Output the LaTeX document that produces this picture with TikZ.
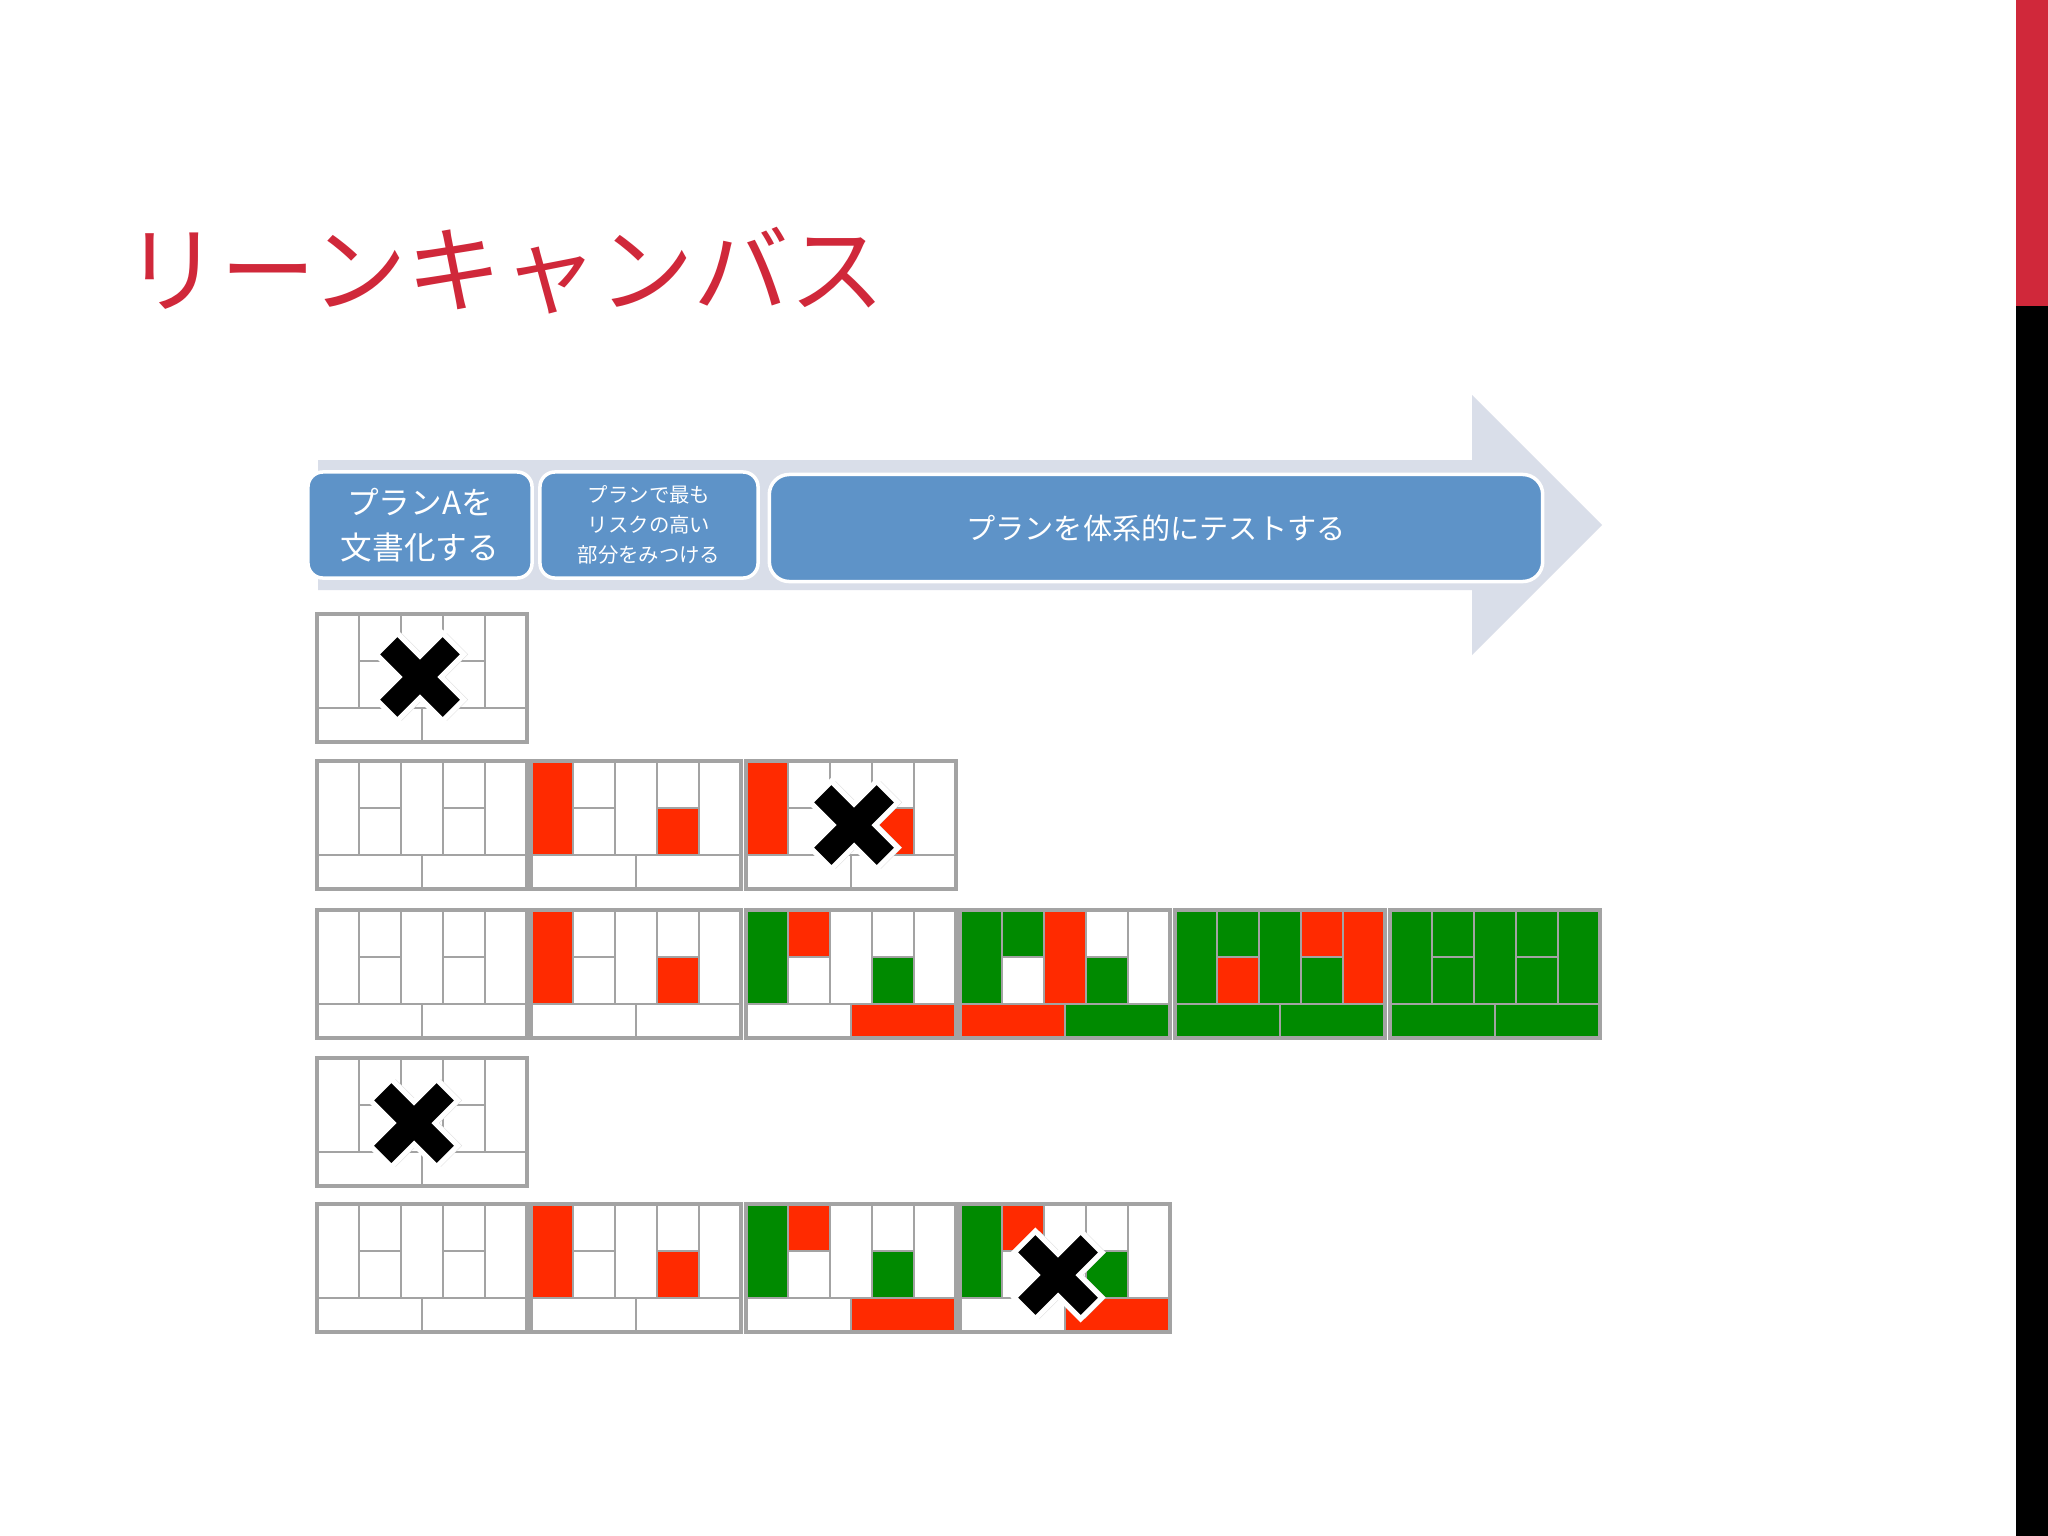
\documentclass[tikz,border=0pt]{standalone}
\usepackage{fontspec}
\newfontfamily\jpfont{Noto Sans CJK JP}
\definecolor{slidered}{HTML}{D0283A}
\definecolor{stepblue}{HTML}{5E93C8}
\definecolor{arrowgray}{HTML}{D9DEE9}
\definecolor{cred}{HTML}{FF2A00}
\definecolor{cgreen}{HTML}{008A00}
\definecolor{gridgray}{HTML}{A3A3A3}
\tikzset{
  stepbox/.style={draw=white, line width=1pt, fill=stepblue, rounded corners=0.15cm,
    text=white, align=center, inner sep=0pt, font=\jpfont},
  cellline/.style={draw=gridgray, line width=0.55pt},
  canvasframe/.style={draw=gridgray, line width=1.3pt},
}
\newcommand{\leancanvas}[2]{%
  \begin{scope}[shift={#1}]
    \foreach \cell/\xa/\ya/\xb/\yb in {p/0/0/42/94, ka/42/0/84/47, kb/42/47/84/94,
        v/84/0/126/94, ca/126/0/168/47, cb/126/47/168/94, s/168/0/210/94,
        l/0/94/105/128, r/105/94/210/128}{
      \coordinate (\cell-nw) at (\xa,\ya);
      \coordinate (\cell-se) at (\xb,\yb);
    }
    \fill[white] (0,0) rectangle (210,128);
    \foreach \cell/\k in {#2}
      \fill[\k] (\cell-nw) rectangle (\cell-se);
    \draw[cellline] (42,0) -- (42,94) (84,0) -- (84,94) (126,0) -- (126,94)
      (168,0) -- (168,94) (0,94) -- (210,94) (105,94) -- (105,128)
      (42,47) -- (84,47) (126,47) -- (168,47);
    \draw[canvasframe] (0,0) rectangle (210,128);
  \end{scope}}
\newcommand{\failmark}[1]{%
  \begin{scope}[shift={#1}, rotate=45]
    \fill[black!18, shift={(3,3)}] (-15,-47) -- (15,-47) -- (15,-15) -- (47,-15) -- (47,15)
      -- (15,15) -- (15,47) -- (-15,47) -- (-15,15) -- (-47,15) -- (-47,-15) -- (-15,-15) -- cycle;
    \filldraw[fill=black, draw=white, line width=1.5pt] (-15,-47) -- (15,-47) -- (15,-15)
      -- (47,-15) -- (47,15) -- (15,15) -- (15,47) -- (-15,47) -- (-15,15) -- (-47,15)
      -- (-47,-15) -- (-15,-15) -- cycle;
  \end{scope}}
\begin{document}
\begin{tikzpicture}[x=0.01cm, y=-0.01cm]
  \useasboundingbox (0,0) rectangle (2048,1536);
  \fill[white] (0,0) rectangle (2048,1536);
  \fill[slidered] (2016,0) rectangle (2048,306);
  \fill[black] (2016,306) rectangle (2048,1536);

  \node (title) [anchor=west, inner sep=0pt, text=slidered,
    font=\jpfont\fontsize{27.2pt}{31pt}\selectfont] at (124,271) {リーンキャンバス};

  \fill[arrowgray] (318,460) -- (1472,460) -- (1472,395) -- (1602,525) -- (1472,655)
    -- (1472,590) -- (318,590) -- cycle;

  \node (doc) [stepbox, minimum width=2.24cm, minimum height=1.06cm,
    font=\jpfont\fontsize{9pt}{12.8pt}\selectfont] at (420,525) {プランAを\\文書化する};
  \node (risk) [stepbox, minimum width=2.18cm, minimum height=1.06cm,
    font=\jpfont\fontsize{5.8pt}{8.5pt}\selectfont] at (649,525) {プランで最も\\リスクの高い\\部分をみつける};
  \node (test) [stepbox, minimum width=7.73cm, minimum height=1.07cm, rounded corners=0.2cm,
    font=\jpfont\fontsize{8.3pt}{10pt}\selectfont] at (1156,528) {プランを体系的にテストする};

  \leancanvas{(317,614)}{p/white}
  \failmark{(420,677)}

  \leancanvas{(317,761)}{p/white}
  \leancanvas{(531,761)}{p/cred, cb/cred}
  \leancanvas{(746,761)}{p/cred, cb/cred}
  \failmark{(854,825)}

  \leancanvas{(317,910)}{p/white}
  \leancanvas{(531,910)}{p/cred, cb/cred}
  \leancanvas{(746,910)}{p/cgreen, ka/cred, cb/cgreen, r/cred}
  \leancanvas{(960,910)}{p/cgreen, ka/cgreen, v/cred, cb/cgreen, l/cred, r/cgreen}
  \leancanvas{(1175,910)}{p/cgreen, ka/cgreen, kb/cred, v/cgreen, ca/cred, cb/cgreen, s/cred, l/cgreen, r/cgreen}
  \leancanvas{(1390,910)}{p/cgreen, ka/cgreen, kb/cgreen, v/cgreen, ca/cgreen, cb/cgreen, s/cgreen, l/cgreen, r/cgreen}

  \leancanvas{(317,1058)}{p/white}
  \failmark{(414,1123)}

  \leancanvas{(317,1204)}{p/white}
  \leancanvas{(531,1204)}{p/cred, cb/cred}
  \leancanvas{(746,1204)}{p/cgreen, ka/cred, cb/cgreen, r/cred}
  \leancanvas{(960,1204)}{p/cgreen, ka/cred, cb/cgreen, r/cred}
  \failmark{(1058,1275)}
\end{tikzpicture}
\end{document}
